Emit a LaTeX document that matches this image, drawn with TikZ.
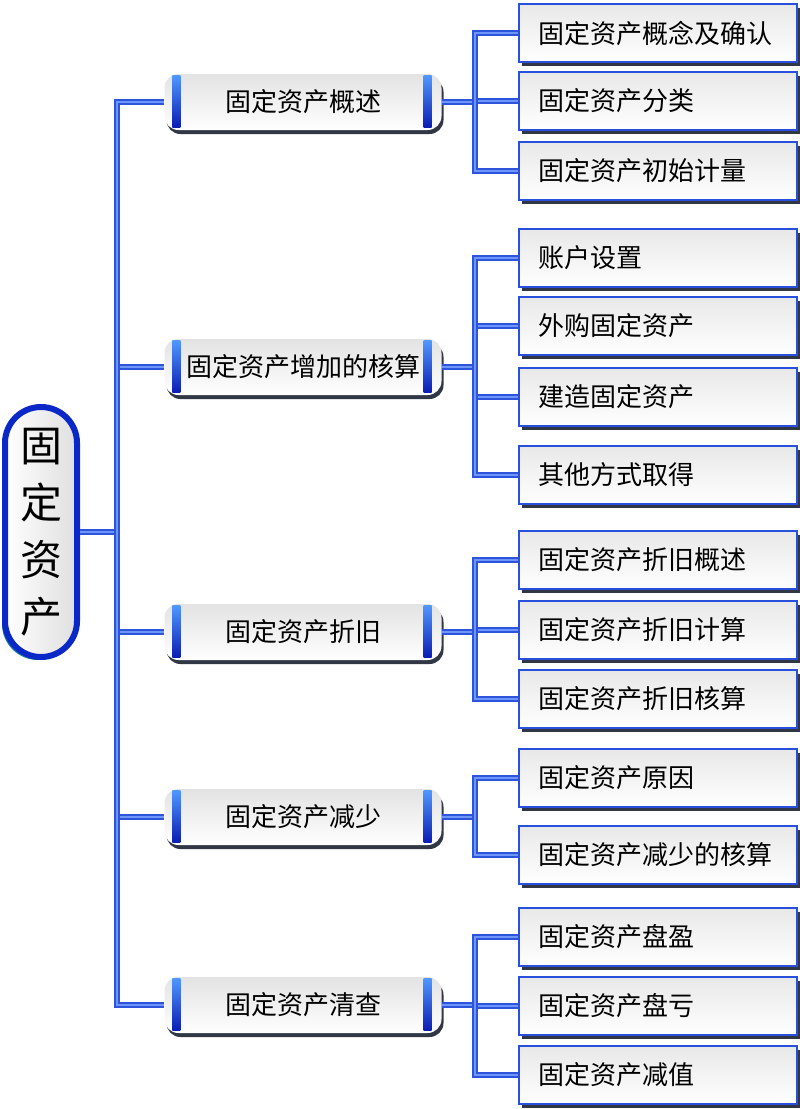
\documentclass[tikz,border=0pt]{standalone}
\usepackage{fontspec}
\setmainfont{Noto Sans CJK SC}
\usepackage{xcolor}
\usetikzlibrary{shadows}

\definecolor{lineblue}{RGB}{45,85,220}
\definecolor{linehi}{RGB}{110,150,250}
\definecolor{bardark}{RGB}{10,30,180}
\definecolor{barlight}{RGB}{80,150,255}
\definecolor{rootblue}{RGB}{10,40,200}
\definecolor{rootshadow}{RGB}{20,130,150}
\definecolor{shadowgray}{RGB}{50,55,70}
\definecolor{leafedge}{RGB}{40,80,220}

\begin{document}
\begin{tikzpicture}[x=1pt,y=-1pt,
  root/.style={rectangle, rounded corners=36pt, draw=rootblue, line width=6pt,
    left color=white, right color=gray!25, minimum width=72pt, minimum height=250pt,
    align=center, inner sep=0pt, font=\fontsize{42}{57}\selectfont,
    drop shadow={shadow xshift=-3pt, shadow yshift=-3pt, fill=rootshadow, opacity=1}},
  topic/.style={rectangle, rounded corners=14pt, top color=gray!22, bottom color=white,
    minimum width=277pt, minimum height=56pt, inner sep=0pt, font=\fontsize{26}{30}\selectfont,
    drop shadow={shadow xshift=2pt, shadow yshift=-4pt, fill=shadowgray, opacity=1}},
  leaf/.style={rectangle, draw=leafedge, line width=1.5pt, top color=gray!18, bottom color=white,
    minimum width=278pt, minimum height=58pt, text width=238pt, align=left, inner xsep=20pt,
    font=\fontsize{26}{30}\selectfont, anchor=west,
    drop shadow={shadow xshift=3pt, shadow yshift=-4pt, fill=shadowgray, opacity=1}},
  conn/.style={draw=lineblue, line width=2pt, double=linehi, double distance=1.4pt},
  bar/.style={top color=barlight, bottom color=bardark}]

  % Page and background
  \path[use as bounding box, fill=white] (0,0) rectangle (800,1109);

  % Root and topics
  \node[root] (root) at (41,532) {固\\定\\资\\产};
  \node[topic] (m1) at (303,102) {固定资产概述};
  \node[topic] (m2) at (303,367) {固定资产增加的核算};
  \node[topic] (m3) at (303,632) {固定资产折旧};
  \node[topic] (m4) at (303,817) {固定资产减少};
  \node[topic] (m5) at (303,1005) {固定资产清查};

  % Blue bars on the topics
  \foreach \m in {m1,m2,m3,m4,m5} {
    \shade[bar] ([xshift=8pt,yshift=-2pt]\m.north west) rectangle ([xshift=16pt,yshift=3pt]\m.south west);
    \shade[bar] ([xshift=-18pt,yshift=-2pt]\m.north east) rectangle ([xshift=-10pt,yshift=3pt]\m.south east);
  }

  % Leaves
  \node[leaf] (l11) at (518,33) {固定资产概念及确认};
  \node[leaf] (l12) at (518,101) {固定资产分类};
  \node[leaf] (l13) at (518,171) {固定资产初始计量};

  \node[leaf] (l21) at (518,258) {账户设置};
  \node[leaf] (l22) at (518,326) {外购固定资产};
  \node[leaf] (l23) at (518,397) {建造固定资产};
  \node[leaf] (l24) at (518,475) {其他方式取得};

  \node[leaf] (l31) at (518,560) {固定资产折旧概述};
  \node[leaf] (l32) at (518,630) {固定资产折旧计算};
  \node[leaf] (l33) at (518,699) {固定资产折旧核算};

  \node[leaf] (l41) at (518,778) {固定资产原因};
  \node[leaf] (l42) at (518,855) {固定资产减少的核算};

  \node[leaf] (l51) at (518,937) {固定资产盘盈};
  \node[leaf] (l52) at (518,1006) {固定资产盘亏};
  \node[leaf] (l53) at (518,1075) {固定资产减值};

  % Trunks
  \coordinate (t) at (117,0);
  \coordinate (s) at (475,0);

  % Root to topics
  \draw[conn] (root.east) -- (root.east -| t);
  \foreach \m in {m2,m3,m4} \draw[conn] (\m.west -| t) -- (\m.west);
  \draw[conn] (m1.west) -- (m1.west -| t) -- (m5.west -| t) -- (m5.west);

  % Topics to leaves
  \foreach \m in {m1,m2,m3,m4,m5} \draw[conn] (\m.east) -- (\m.east -| s);
  \foreach \l in {l12,l22,l23,l32,l52} \draw[conn] (\l.west -| s) -- (\l.west);
  \draw[conn] (l11.west) -- (l11.west -| s) -- (l13.west -| s) -- (l13.west);
  \draw[conn] (l21.west) -- (l21.west -| s) -- (l24.west -| s) -- (l24.west);
  \draw[conn] (l31.west) -- (l31.west -| s) -- (l33.west -| s) -- (l33.west);
  \draw[conn] (l41.west) -- (l41.west -| s) -- (l42.west -| s) -- (l42.west);
  \draw[conn] (l51.west) -- (l51.west -| s) -- (l53.west -| s) -- (l53.west);
\end{tikzpicture}
\end{document}
